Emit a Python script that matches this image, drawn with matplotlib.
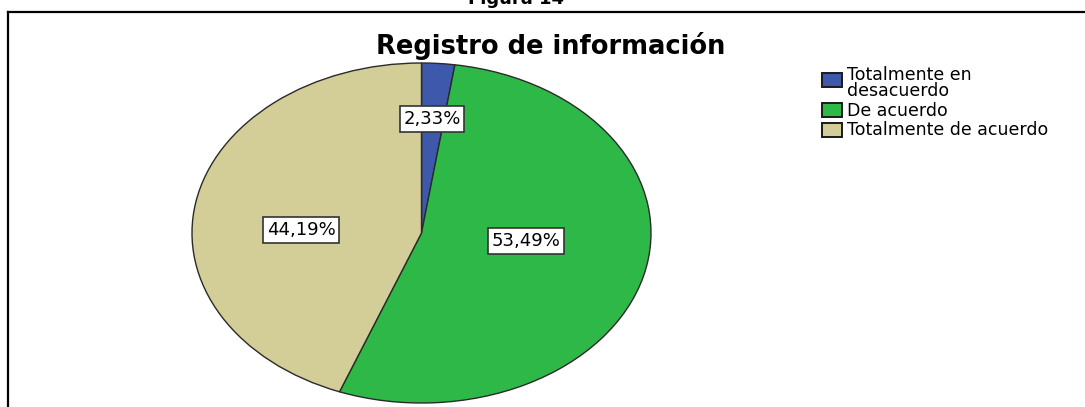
import matplotlib
matplotlib.use("Agg")
import matplotlib.pyplot as plt
from matplotlib.lines import Line2D
from matplotlib.patches import Rectangle

# datos: 43 encuestados
categorias = ["Totalmente en\ndesacuerdo", "De acuerdo", "Totalmente de acuerdo"]
frecuencias = [1, 23, 19]
colores = ["#3E58AC", "#2EB848", "#D3CE97"]

titulo = "Registro de información"
figura_txt = "Figura 14"

W, H = 1085, 407
fig = plt.figure(figsize=(W / 100, H / 100), dpi=100)
plt.rcParams['font.family'] = ['DejaVu Sans']

# marco negro (arriba e izquierda, el resto queda cortado)
fig.add_artist(Line2D([8 / W, 1], [1 - 11.5 / H, 1 - 11.5 / H], color="black", lw=1.6,
                      transform=fig.transFigure))
fig.add_artist(Line2D([8 / W, 8 / W], [0, 1 - 11.5 / H], color="black", lw=1.6,
                      transform=fig.transFigure))

# "Figura 14" cortado arriba, como en el original
fig.text(516 / W, 1 - 3.5 / H, figura_txt, ha="center", va="baseline",
         fontsize=13, fontweight="bold")

fig.text(551 / W, 1 - 46 / H, titulo, ha="center", va="center",
         fontsize=18.5, fontweight="bold")

# pastel eliptico
ax = fig.add_axes([192 / W, 4 / H, 459 / W, 340 / H])


def fmt(p):
    return f"{p:.2f}%".replace(".", ",")


wedges, textos, autotextos = ax.pie(frecuencias, colors=colores, startangle=90,
                                    counterclock=False, autopct=fmt, pctdistance=0.6,
                                    wedgeprops=dict(edgecolor="#2a2a2a", linewidth=1.0))
ax.set_aspect("auto")
ax.set_xlim(-1.0, 1.0)
ax.set_ylim(-1.0, 1.0)

# posiciones de las etiquetas como en SPSS
pos_etiquetas = [(0.045, 0.67), (0.454, -0.047), (-0.524, 0.018)]
for t, (x, y) in zip(autotextos, pos_etiquetas):
    t.set_position((x, y))
    t.set_fontsize(13)
    t.set_color("black")
    t.set_bbox(dict(facecolor="white", edgecolor="#333333", linewidth=1.2,
                    boxstyle="square,pad=0.2"))

# leyenda manual
y_centros = [80, 110, 130]
y_textos = [83, 111, 130]
for nombre, color, yc, yt in zip(categorias, colores, y_centros, y_textos):
    fig.add_artist(Rectangle((822 / W, 1 - (yc + 7) / H), 20 / W, 14 / H,
                             facecolor=color, edgecolor="#1a1a1a", lw=1.4,
                             transform=fig.transFigure))
    fig.text(847 / W, 1 - yt / H, nombre, ha="left", va="center", fontsize=12.5,
             linespacing=0.9)

fig.savefig("out.png", dpi=100)
